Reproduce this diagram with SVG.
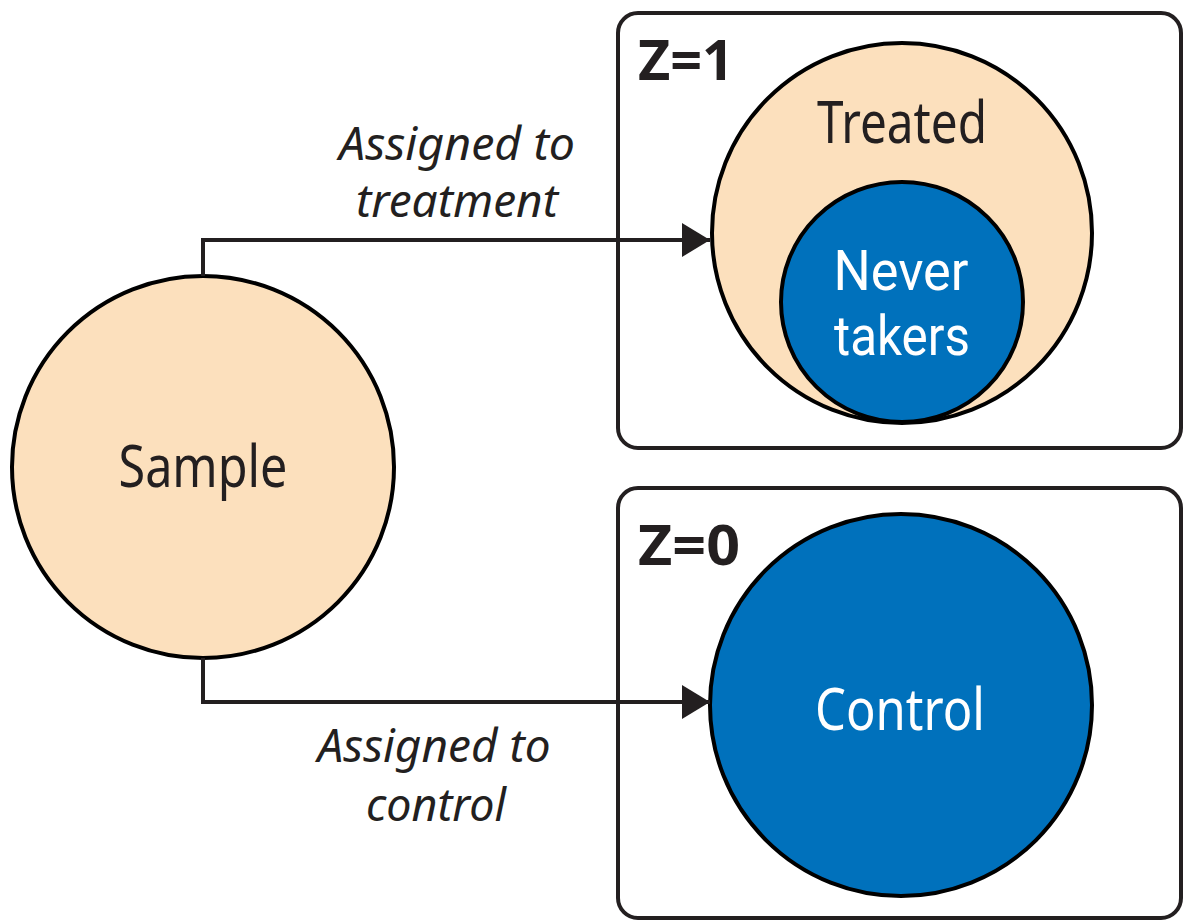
<svg xmlns="http://www.w3.org/2000/svg" width="1184" height="922" viewBox="0 0 1184 922">
  <defs>
    <marker id="arrow" viewBox="0 0 28 34" refX="28" refY="17" markerWidth="28" markerHeight="34" markerUnits="userSpaceOnUse" orient="auto">
      <path d="M0,0 L28,17 L0,34 Z" fill="#231f20"/>
    </marker>
  </defs>
  <style>
    .box { fill: #ffffff; stroke: #231f20; stroke-width: 4; }
    .peach { fill: #fce0bd; stroke: #000000; stroke-width: 4; }
    .blue { fill: #0071bc; stroke: #000000; stroke-width: 4; }
    .lbl { font-family: "Noto Sans", "Liberation Sans", sans-serif; font-size: 58px; text-anchor: middle; }
    .tight { font-family: Roboto, "Liberation Sans", sans-serif; font-size: 56px; }
    .dark { fill: #231f20; }
    .white { fill: #ffffff; }
    .z { font-family: "Noto Sans", "Liberation Sans", sans-serif; font-size: 56px; font-weight: bold; fill: #231f20; }
    .edge { font-family: "Noto Sans", "Liberation Sans", sans-serif; font-size: 46px; font-style: italic; fill: #231f20; text-anchor: middle; }
    .conn { fill: none; stroke: #231f20; stroke-width: 4; }
  </style>
  <rect width="1184" height="922" fill="#ffffff"/>

  <g id="box-z1">
    <rect class="box" x="618" y="13" width="563" height="435" rx="20"/>
    <text class="z" x="638" y="80" textLength="96" lengthAdjust="spacingAndGlyphs">Z=1</text>
  </g>
  <g id="node-treated">
    <ellipse class="peach" cx="902" cy="233" rx="190" ry="190"/>
    <text class="lbl dark" x="902" y="143" textLength="170" lengthAdjust="spacingAndGlyphs">Treated</text>
  </g>
  <g id="node-never-takers">
    <ellipse class="blue" cx="902" cy="302" rx="121" ry="120"/>
    <text class="lbl tight white" x="901" y="290" textLength="135" lengthAdjust="spacingAndGlyphs">Never</text>
    <text class="lbl tight white" x="902" y="355" textLength="136" lengthAdjust="spacingAndGlyphs">takers</text>
  </g>

  <g id="box-z0">
    <rect class="box" x="618" y="488" width="563" height="430" rx="20"/>
    <text class="z" x="638" y="565" textLength="102" lengthAdjust="spacingAndGlyphs">Z=0</text>
  </g>
  <g id="node-control">
    <ellipse class="blue" cx="901" cy="705" rx="191" ry="191"/>
    <text class="lbl white" x="900" y="730" textLength="170" lengthAdjust="spacingAndGlyphs">Control</text>
  </g>

  <g id="node-sample">
    <circle class="peach" cx="203" cy="467" r="191"/>
    <text class="lbl dark" x="203" y="487" textLength="169" lengthAdjust="spacingAndGlyphs">Sample</text>
  </g>

  <g id="connectors">
    <path class="conn" d="M203,276 V240 H710" marker-end="url(#arrow)"/>
    <path class="conn" d="M203,658 V702 H710" marker-end="url(#arrow)"/>
    <text class="edge" x="457" y="160" textLength="236" lengthAdjust="spacingAndGlyphs">Assigned to</text>
    <text class="edge" x="457" y="217" textLength="202" lengthAdjust="spacingAndGlyphs">treatment</text>
    <text class="edge" x="434" y="762" textLength="233" lengthAdjust="spacingAndGlyphs">Assigned to</text>
    <text class="edge" x="436" y="821" textLength="140" lengthAdjust="spacingAndGlyphs">control</text>
  </g>
</svg>
